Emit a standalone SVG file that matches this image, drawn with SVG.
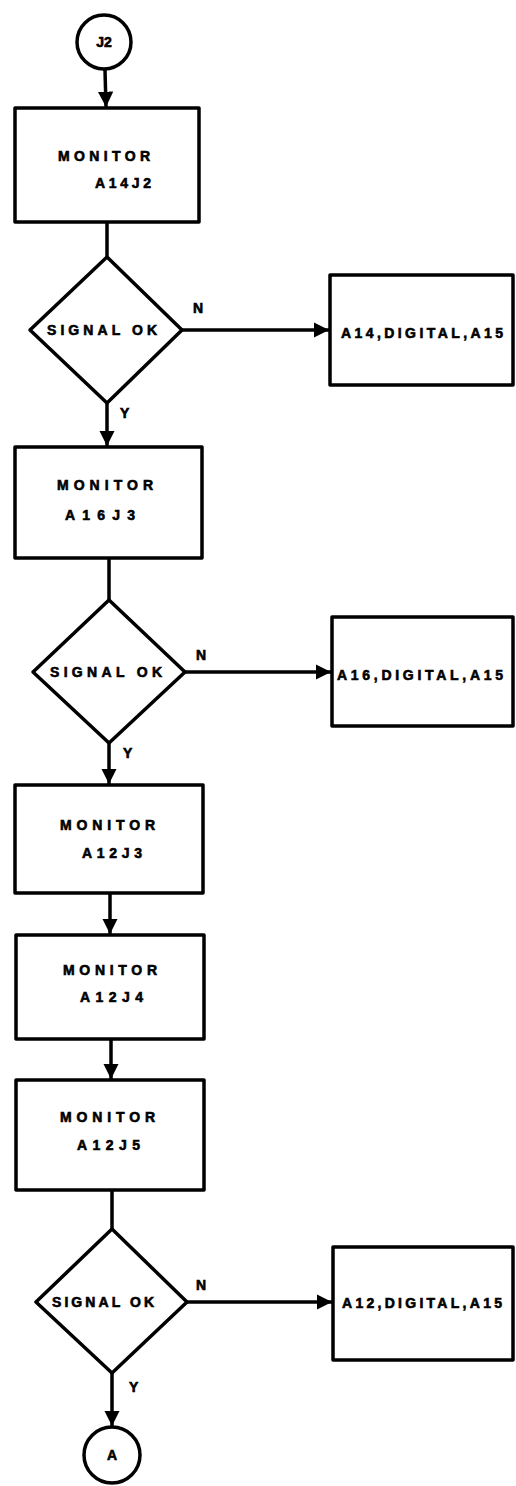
<svg xmlns="http://www.w3.org/2000/svg" width="516" height="1486" viewBox="0 0 516 1486">
<style>
.s{fill:#fff;stroke:#000;stroke-width:3.5;stroke-linejoin:round}
.l{fill:none;stroke:#000;stroke-width:3.5}
.t{font-family:"Liberation Sans",Arial,sans-serif;font-weight:bold;font-size:14px;fill:#000;stroke:#000;stroke-width:0.6}
.c{text-anchor:middle}
</style>
<defs>
<marker id="ah" viewBox="0 0 10 10" refX="10" refY="5" markerWidth="4.4" markerHeight="4.4" markerUnits="strokeWidth" orient="auto">
<path d="M0,0 L10,5 L0,10 Z" fill="#000"/>
</marker>
</defs>
<rect width="516" height="1486" fill="#fff"/>
<g id="connectors">
<line class="l" x1="105" y1="70" x2="106" y2="107" marker-end="url(#ah)"/>
<line class="l" x1="107" y1="222" x2="107" y2="257"/>
<line class="l" x1="182" y1="330" x2="329" y2="330" marker-end="url(#ah)"/>
<line class="l" x1="107" y1="403" x2="107" y2="446" marker-end="url(#ah)"/>
<line class="l" x1="109" y1="558" x2="109" y2="600"/>
<line class="l" x1="185" y1="672" x2="331" y2="672" marker-end="url(#ah)"/>
<line class="l" x1="109" y1="743" x2="109" y2="784" marker-end="url(#ah)"/>
<line class="l" x1="110" y1="893" x2="110" y2="934" marker-end="url(#ah)"/>
<line class="l" x1="111" y1="1039" x2="111" y2="1079" marker-end="url(#ah)"/>
<line class="l" x1="112" y1="1190" x2="112" y2="1229"/>
<line class="l" x1="187" y1="1302" x2="332" y2="1302" marker-end="url(#ah)"/>
<line class="l" x1="112" y1="1373" x2="112" y2="1426" marker-end="url(#ah)"/>
<text class="t" x="193" y="313">N</text>
<text class="t" x="120" y="418">Y</text>
<text class="t" x="196" y="660">N</text>
<text class="t" x="123" y="758">Y</text>
<text class="t" x="196" y="1290">N</text>
<text class="t" x="129" y="1392">Y</text>
</g>
<g id="j2">
<circle class="s" cx="104" cy="42" r="27"/>
<text class="t c" x="104" y="47">J2</text>
</g>
<g id="box1">
<rect class="s" x="15" y="108" width="184" height="114"/>
<text class="t" x="58" y="161" textLength="92" lengthAdjust="spacing">MONITOR</text>
<text class="t" x="95" y="188" textLength="56" lengthAdjust="spacing">A14J2</text>
</g>
<g id="dec1">
<polygon class="s" points="107,257 182,330 107,403 30,330"/>
<text class="t" x="47" y="335" textLength="110" lengthAdjust="spacing">SIGNAL OK</text>
</g>
<g id="out1">
<rect class="s" x="330" y="275" width="183" height="110"/>
<text class="t" x="341" y="338" textLength="162" lengthAdjust="spacing">A14,DIGITAL,A15</text>
</g>
<g id="box2">
<rect class="s" x="15" y="447" width="187" height="111"/>
<text class="t" x="57" y="490" textLength="96" lengthAdjust="spacing">MONITOR</text>
<text class="t" x="65" y="520" textLength="70" lengthAdjust="spacing">A16J3</text>
</g>
<g id="dec2">
<polygon class="s" points="109,600 185,672 109,743 33,672"/>
<text class="t" x="50" y="677" textLength="112" lengthAdjust="spacing">SIGNAL OK</text>
</g>
<g id="out2">
<rect class="s" x="332" y="617" width="181" height="109"/>
<text class="t" x="337" y="680" textLength="166" lengthAdjust="spacing">A16,DIGITAL,A15</text>
</g>
<g id="box3">
<rect class="s" x="15" y="785" width="188" height="108"/>
<text class="t" x="60" y="830" textLength="95" lengthAdjust="spacing">MONITOR</text>
<text class="t" x="82" y="858" textLength="60" lengthAdjust="spacing">A12J3</text>
</g>
<g id="box4">
<rect class="s" x="16" y="935" width="188" height="104"/>
<text class="t" x="63" y="975" textLength="94" lengthAdjust="spacing">MONITOR</text>
<text class="t" x="80" y="1002" textLength="63" lengthAdjust="spacing">A12J4</text>
</g>
<g id="box5">
<rect class="s" x="16" y="1080" width="188" height="110"/>
<text class="t" x="60" y="1122" textLength="95" lengthAdjust="spacing">MONITOR</text>
<text class="t" x="77" y="1150" textLength="63" lengthAdjust="spacing">A12J5</text>
</g>
<g id="dec3">
<polygon class="s" points="112,1229 187,1302 112,1373 36,1302"/>
<text class="t" x="52" y="1307" textLength="102" lengthAdjust="spacing">SIGNAL OK</text>
</g>
<g id="out3">
<rect class="s" x="333" y="1247" width="180" height="113"/>
<text class="t" x="342" y="1308" textLength="160" lengthAdjust="spacing">A12,DIGITAL,A15</text>
</g>
<g id="a">
<circle class="s" cx="112" cy="1455" r="28"/>
<text class="t c" x="112" y="1460">A</text>
</g>
</svg>
